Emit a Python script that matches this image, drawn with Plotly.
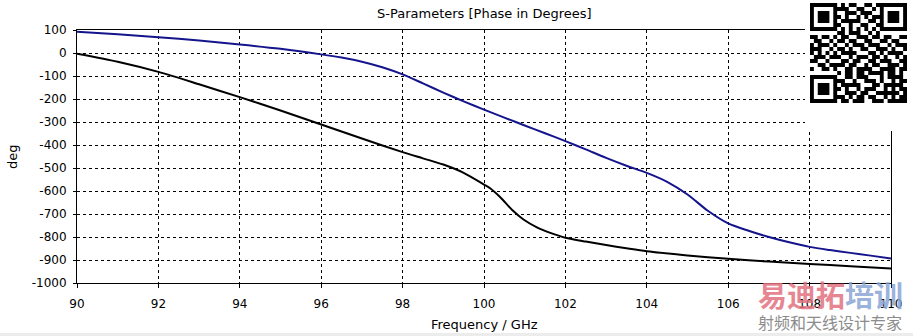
import plotly.graph_objects as go

# ---- data ----
freq_blue = [90, 91, 92, 93, 94, 95, 96, 96.5, 97, 97.5, 98, 98.5, 99, 99.5, 100, 100.5, 101, 101.5,
             102, 102.5, 103, 103.5, 104, 104.5, 105, 105.5, 106, 106.5, 107, 107.5, 108, 108.5,
             109, 109.5, 110]
phase_blue = [92, 81, 69, 54, 37, 18, -6, -20, -38, -62, -93, -132, -172, -210, -246, -281, -315, -349,
              -383, -419, -456, -490, -521, -560, -615, -686, -741, -773, -800, -823, -843, -857,
              -869, -881, -893]

freq_black = [90, 91, 92, 93, 94, 95, 96, 97, 98, 98.5, 99, 99.5, 100, 100.15, 100.4, 100.7, 100.97,
              101.3, 101.63, 102, 102.5, 103, 103.5, 104, 105, 106, 107, 108, 109, 110]
phase_black = [-3, -38, -82, -136, -192, -250, -311, -372, -431, -458, -485, -521, -572, -588, -627,
               -684, -724, -758, -782, -803, -820, -835, -849, -862, -880, -895, -907, -917, -927, -937]

x_ticks = [90, 92, 94, 96, 98, 100, 102, 104, 106, 108, 110]
y_ticks = [100, 0, -100, -200, -300, -400, -500, -600, -700, -800, -900, -1000]

title_text = "S-Parameters [Phase in Degrees]"
x_label = "Frequency / GHz"
y_label = "deg"

# decorative QR-like block (25 x 25)
qr_rows = [
    "1111111" + "01011001101" + "1111111",
    "1000001" + "11100110010" + "1000001",
    "1011101" + "00111011100" + "1011101",
    "1011101" + "10100101011" + "1011101",
    "1011101" + "01111100110" + "1011101",
    "1000001" + "10010011001" + "1000001",
    "1111111" + "01010101010" + "1111111",
    "0000000" + "11011100101" + "0000000",
    "1101101" + "01100111011" + "0110011",
    "0110010" + "11011001100" + "1101100",
    "1011101" + "00101110111" + "0010111",
    "1110010" + "11010011001" + "1101001",
    "1010101" + "01111000110" + "1011110",
    "0111011" + "10010111011" + "0100101",
    "1100100" + "01101100110" + "1110011",
    "0011011" + "11011001011" + "0011101",
    "1001101" + "00110111100" + "1111011",
    "0000000" + "101101101111011010",
    "1111111" + "001101110001011110",
    "1000001" + "110010011101001011",
    "1011101" + "011111000110111110",
    "1011101" + "101001011100101011",
    "1011101" + "001110110011111101",
    "1000001" + "110101101100101011",
    "1111111" + "011011100111011111",
]

W, H = 913, 336
L, R, T, B = 77, 22, 30, 53
pw, ph = W - L - R, H - T - B


def px(xp):
    return (xp - L) / pw


def py(yp):
    return (H - B - yp) / ph


fig = go.Figure()
fig.add_trace(go.Scatter(x=freq_blue, y=phase_blue, mode="lines",
                         line=dict(color="#14148c", width=2, shape="spline", smoothing=0.8),
                         showlegend=False, hoverinfo="skip"))
fig.add_trace(go.Scatter(x=freq_black, y=phase_black, mode="lines",
                         line=dict(color="#000000", width=2, shape="spline", smoothing=0.8),
                         showlegend=False, hoverinfo="skip"))

shapes = []
# white patch behind QR code (covers frame/grid in the corner)
shapes.append(dict(type="rect", xref="paper", yref="paper", x0=px(805), x1=px(W + 5),
                   y0=py(131), y1=py(-5), fillcolor="white", line=dict(width=0), layer="above"))
# QR modules
qx0, qy0, qw, qh = 810, 3, 97, 100
n = 25
mw, mh = qw / n, qh / n
for r, row in enumerate(qr_rows):
    row = (row + "0" * n)[:n]
    c = 0
    while c < n:
        if row[c] == "1":
            s = c
            while c < n and row[c] == "1":
                c += 1
            shapes.append(dict(type="rect", xref="paper", yref="paper",
                               x0=px(qx0 + s * mw), x1=px(qx0 + c * mw),
                               y0=py(qy0 + (r + 1) * mh), y1=py(qy0 + r * mh),
                               fillcolor="black", line=dict(width=0), layer="above"))
        else:
            c += 1
# light gray strip at bottom
shapes.append(dict(type="rect", xref="paper", yref="paper", x0=px(-5), x1=px(W + 5),
                   y0=py(H + 5), y1=py(333), fillcolor="#ececec", line=dict(width=0), layer="below"))

annotations = [
    dict(text=title_text, xref="paper", yref="paper", x=0.5, y=py(14), showarrow=False,
         font=dict(family="DejaVu Sans", size=13, color="#000000"), xanchor="center", yanchor="middle"),
    dict(text=x_label, xref="paper", yref="paper", x=0.5, y=py(324), showarrow=False,
         font=dict(family="DejaVu Sans", size=13, color="#000000"), xanchor="center", yanchor="middle"),
    dict(text=y_label, xref="paper", yref="paper", x=px(12), y=py(157), showarrow=False, textangle=-90,
         font=dict(family="DejaVu Sans", size=13, color="#000000"), xanchor="center", yanchor="middle"),
    dict(text="<b><span style='color:#e2727f'>易迪拓</span><span style='color:#8aa6d6'>培训</span></b>",
         xref="paper", yref="paper", x=px(830), y=py(294), showarrow=False, opacity=0.85,
         font=dict(family="Noto Sans CJK SC", size=29), xanchor="center", yanchor="middle"),
    dict(text="射频和天线设计专家", xref="paper", yref="paper", x=px(830), y=py(322), showarrow=False,
         font=dict(family="Noto Sans CJK SC", size=16, color="#8c8c8c"), xanchor="center", yanchor="middle"),
]

fig.update_layout(
    width=W, height=H,
    margin=dict(l=L, r=R, t=T, b=B, pad=0),
    paper_bgcolor="white", plot_bgcolor="white",
    shapes=shapes, annotations=annotations,
    font=dict(family="DejaVu Sans", size=12, color="#000000"),
    xaxis=dict(range=[90, 110], tickvals=x_ticks, ticktext=[str(v) for v in x_ticks],
               showgrid=True, gridcolor="#000000", gridwidth=1, griddash="3px,3px",
               showline=True, linecolor="#000000", linewidth=1, mirror=True,
               ticks="outside", ticklen=4, tickcolor="#000000", zeroline=False,
               ticklabelstandoff=6,
               tickfont=dict(family="DejaVu Sans", size=12)),
    yaxis=dict(range=[-1000, 100], tickvals=y_ticks, ticktext=[str(v) for v in y_ticks],
               showgrid=True, gridcolor="#000000", gridwidth=1, griddash="3px,3px",
               showline=True, linecolor="#000000", linewidth=1, mirror=True,
               ticks="outside", ticklen=3, tickcolor="#000000", zeroline=False,
               ticklabelstandoff=4,
               tickfont=dict(family="DejaVu Sans", size=12)),
)

fig.write_html("out.html")
